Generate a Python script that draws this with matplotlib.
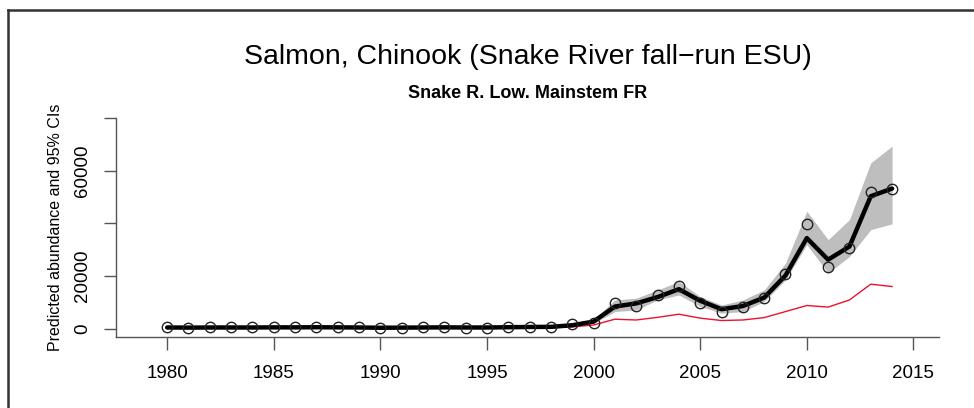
import matplotlib
matplotlib.use("Agg")
import matplotlib.pyplot as plt
from matplotlib.lines import Line2D

plt.rcParams['font.family'] = ['Liberation Sans', 'DejaVu Sans']

years = list(range(1980, 2015))

# observed abundance (open circles)
observed = [500, 300, 600, 500, 500, 500, 600, 700, 500, 500,
            100, 400, 500, 600, 400, 400, 700, 800, 700, 1900,
            2300, 9900, 8800, 12600, 16300, 9900, 6500, 8400, 11600, 20700,
            39900, 23600, 30600, 51800, 53200]

# model-predicted abundance (thick black line)
predicted = [450, 400, 450, 450, 450, 500, 500, 550, 500, 450,
             350, 400, 450, 500, 450, 450, 550, 650, 700, 1300,
             2700, 8400, 9600, 12000, 15000, 10600, 7400, 8600, 11800, 20200,
             34400, 26200, 31200, 50300, 53200]

# 95% confidence limits (grey band)
ci_lower = [250, 200, 250, 250, 250, 300, 300, 350, 300, 250,
            200, 250, 250, 300, 250, 250, 350, 400, 450, 900,
            2000, 6500, 7100, 10900, 12800, 8400, 5900, 6500, 10300, 18500,
            31900, 21100, 27400, 37600, 39800]
ci_upper = [700, 650, 700, 700, 700, 750, 750, 800, 750, 700,
            550, 650, 700, 750, 700, 700, 800, 900, 1000, 1800,
            3600, 10900, 11600, 14700, 17900, 12200, 9000, 10900, 14700, 24900,
            44600, 33800, 41400, 63000, 69300]

# natural-origin component (red line)
natural = [200, 150, 200, 200, 200, 250, 250, 300, 250, 200,
           150, 200, 200, 250, 200, 200, 250, 300, 350, 700,
           1400, 3600, 3300, 4300, 5500, 4000, 3100, 3300, 4200, 6500,
           8800, 8200, 10900, 16900, 16000]

x_ticks = [1980, 1985, 1990, 1995, 2000, 2005, 2010, 2015]
y_ticks = [0, 20000, 40000, 60000, 80000]
y_tick_labels = ["0", "20000", "", "60000", ""]

title = "Salmon, Chinook (Snake River fall\u2212run ESU)"
subtitle = "Snake R. Low. Mainstem FR"
ylabel = "Predicted abundance and 95% CIs"

W, H = 974, 408
fig = plt.figure(figsize=(W / 100, H / 100), dpi=100)

left_px, right_px = 116, 939
bottom_px, top_px = 337, 118
ax = fig.add_axes([left_px / W, 1 - bottom_px / H,
                   (right_px - left_px) / W, (bottom_px - top_px) / H])

ax.fill_between(years, ci_lower, ci_upper, color="#bebebe", linewidth=0, zorder=1)
ax.plot(years, natural, color="#ee1030", linewidth=1.0, zorder=2)
ax.plot(years, predicted, color="black", linewidth=3.2, zorder=3,
        solid_joinstyle="round", solid_capstyle="round")
ax.plot(years, observed, linestyle="none", marker="o", markersize=7.5,
        markerfacecolor="none", markeredgecolor="#222222", markeredgewidth=1.0, zorder=4)

ax.set_xlim(1977.6, 2016.2)
ax.set_ylim(-3160, 80000)

ax.set_xticks(x_ticks)
ax.set_xticklabels([str(t) for t in x_ticks])
ax.set_yticks(y_ticks)
ax.set_yticklabels(y_tick_labels, rotation=90, va="center")

axis_col = "#555555"
for side in ("top", "right"):
    ax.spines[side].set_visible(False)
for side in ("left", "bottom"):
    ax.spines[side].set_color(axis_col)
    ax.spines[side].set_linewidth(1.0)
ax.tick_params(axis="both", direction="out", length=9, width=1.0,
               color=axis_col, labelsize=13.5, labelcolor="black")
ax.tick_params(axis="x", pad=11)
ax.tick_params(axis="y", pad=9)

ax.set_ylabel(ylabel, fontsize=11.5, labelpad=8)

cx = (left_px + right_px) / 2 / W
fig.text(cx, 1 - 63.5 / H, title, ha="center", va="baseline", fontsize=20.5)
fig.text(cx, 1 - 98.5 / H, subtitle, ha="center", va="baseline", fontsize=13,
         fontweight="bold")

# outer frame (top and left edges)
frame_col = "#333333"
fig.add_artist(Line2D([8 / W, 1.0], [1 - 10 / H, 1 - 10 / H],
                      transform=fig.transFigure, color=frame_col, linewidth=1.8))
fig.add_artist(Line2D([8 / W, 8 / W], [0.0, 1 - 10 / H],
                      transform=fig.transFigure, color=frame_col, linewidth=1.8))

fig.savefig("out.png", dpi=100)
